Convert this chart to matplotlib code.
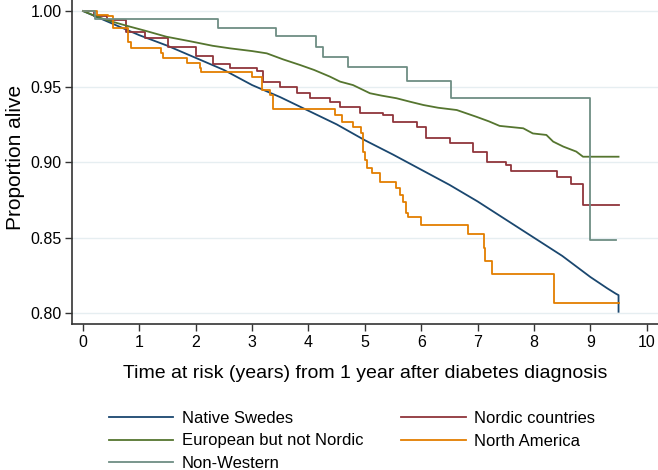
import matplotlib
matplotlib.use("Agg")
import matplotlib.pyplot as plt

plt.rcParams['font.family'] = ['Liberation Sans', 'DejaVu Sans']

# ---- data ----
native_t = [0, 0.25, 0.5, 1, 1.5, 2, 2.5, 3, 3.5, 4, 4.5, 5, 5.5, 6, 6.5, 7, 7.5, 8, 8.5, 9, 9.3, 9.45, 9.5, 9.5]
native_s = [1.0, 0.996, 0.992, 0.984, 0.977, 0.969, 0.961, 0.951, 0.943, 0.934, 0.925, 0.9145, 0.905, 0.895,
            0.885, 0.874, 0.862, 0.850, 0.838, 0.824, 0.8165, 0.813, 0.812, 0.801]

nordic_t = [0, 0.2, 0.42, 0.77, 1.1, 1.5, 2.0, 2.3, 2.61, 3.08, 3.2, 3.5, 3.8, 4.02, 4.38, 4.56, 4.91, 5.32,
            5.5, 5.92, 6.09, 6.51, 6.92, 7.16, 7.51, 7.6, 8.4, 8.66, 8.87, 9.51]
nordic_s = [1.0, 0.997, 0.994, 0.986, 0.982, 0.976, 0.970, 0.965, 0.962, 0.960, 0.9533, 0.950, 0.946, 0.9423,
            0.940, 0.9367, 0.9323, 0.9312, 0.9268, 0.9235, 0.9158, 0.9125, 0.907, 0.9003, 0.898, 0.8944,
            0.8904, 0.8856, 0.8717, 0.8717]

europe_t = [0, 0.2, 0.42, 0.8, 1.1, 1.48, 1.9, 2.3, 2.61, 3.0, 3.26, 3.55, 3.85, 4.1, 4.38, 4.56, 4.79, 5.09,
            5.3, 5.56, 5.8, 6.04, 6.3, 6.63, 6.98, 7.2, 7.39, 7.81, 7.98, 8.22, 8.34, 8.52, 8.75, 8.87, 9.5]
europe_s = [1.0, 0.997, 0.994, 0.990, 0.987, 0.983, 0.980, 0.977, 0.9753, 0.9735, 0.972, 0.968, 0.9643, 0.961,
            0.9566, 0.9533, 0.951, 0.9456, 0.944, 0.9423, 0.940, 0.9378, 0.936, 0.9345, 0.930, 0.927, 0.924,
            0.9224, 0.919, 0.918, 0.9136, 0.9103, 0.907, 0.9036, 0.9036]

namerica_t = [0, 0.24, 0.45, 0.54, 0.8, 0.86, 1.39, 1.42, 1.84, 2.07, 2.1, 2.99, 3.17, 3.32, 3.37, 4.47, 4.59,
              4.79, 4.94, 4.97, 5.0, 5.03, 5.12, 5.27, 5.56, 5.62, 5.68, 5.73, 5.77, 6.0, 6.83, 7.11, 7.13,
              7.26, 8.35, 9.5]
namerica_s = [1.0, 0.9974, 0.9967, 0.9886, 0.9797, 0.9753, 0.972, 0.9687, 0.9654, 0.962, 0.9598, 0.9566,
              0.9478, 0.9444, 0.935, 0.9312, 0.9268, 0.9235, 0.9191, 0.907, 0.9015, 0.896, 0.8927, 0.8871,
              0.8827, 0.8783, 0.8739, 0.8662, 0.864, 0.8585, 0.8523, 0.843, 0.8347, 0.826, 0.8067, 0.8067]

nonwest_t = [0, 0.21, 2.4, 3.43, 4.14, 4.26, 4.7, 5.75, 6.52, 9.0, 9.46]
nonwest_s = [1.0, 0.9947, 0.9886, 0.9835, 0.9764, 0.9698, 0.9632, 0.9539, 0.9427, 0.8485, 0.8485]

labels = ["Native Swedes", "Nordic countries", "European but not Nordic", "North America", "Non-Western"]
colors = ["#1a476f", "#90353b", "#55752f", "#e37e00", "#6e8e84"]

x_ticks = [0, 1, 2, 3, 4, 5, 6, 7, 8, 9, 10]
y_ticks = [0.80, 0.85, 0.90, 0.95, 1.00]

fig = plt.figure(figsize=(6.58, 4.70), dpi=100)
ax = fig.add_axes([72 / 658, 1 - 324 / 470, 1 - 72 / 658, 324 / 470])

series = [(native_t, native_s, 'default'),
          (nordic_t, nordic_s, 'steps-post'),
          (europe_t, europe_s, 'default'),
          (namerica_t, namerica_s, 'steps-post'),
          (nonwest_t, nonwest_s, 'steps-post')]
handles = []
for (t, s, ds), lab, c in zip(series, labels, colors):
    h, = ax.plot(t, s, color=c, lw=1.3, drawstyle=ds, label=lab, zorder=3)
    handles.append(h)

ax.set_xlim(-0.195, 10.2)
ax.set_ylim(0.7929, 1.0073)
ax.set_xticks(x_ticks)
ax.set_yticks(y_ticks)
ax.set_yticklabels([f"{v:.2f}" for v in y_ticks])
ax.tick_params(axis='both', labelsize=11.5, length=5, width=1, color='#333333')
ax.tick_params(axis='y', pad=2.5)
ax.tick_params(axis='x', pad=3)
ax.grid(axis='y', color='#e6eef1', lw=1)
ax.set_axisbelow(True)
for sp in ['top', 'right']:
    ax.spines[sp].set_visible(False)
for sp in ['left', 'bottom']:
    ax.spines[sp].set_color('#333333')
    ax.spines[sp].set_linewidth(1.2)

ax.set_xlabel("Time at risk (years) from 1 year after diabetes diagnosis", fontsize=14, labelpad=11)
ax.set_ylabel("Proportion alive", fontsize=15)
ax.yaxis.set_label_coords(-0.08, 0.515)

order = [0, 2, 4, 1, 3]
fig.legend([handles[i] for i in order], [labels[i] for i in order], ncol=2, frameon=False,
           loc='upper left', bbox_to_anchor=(109 / 658, 1 - 411 / 470), fontsize=12,
           handlelength=3.85, handletextpad=0.5, columnspacing=2.3, labelspacing=0.45, borderpad=0,
           borderaxespad=0)

fig.savefig("out.png", dpi=100)
